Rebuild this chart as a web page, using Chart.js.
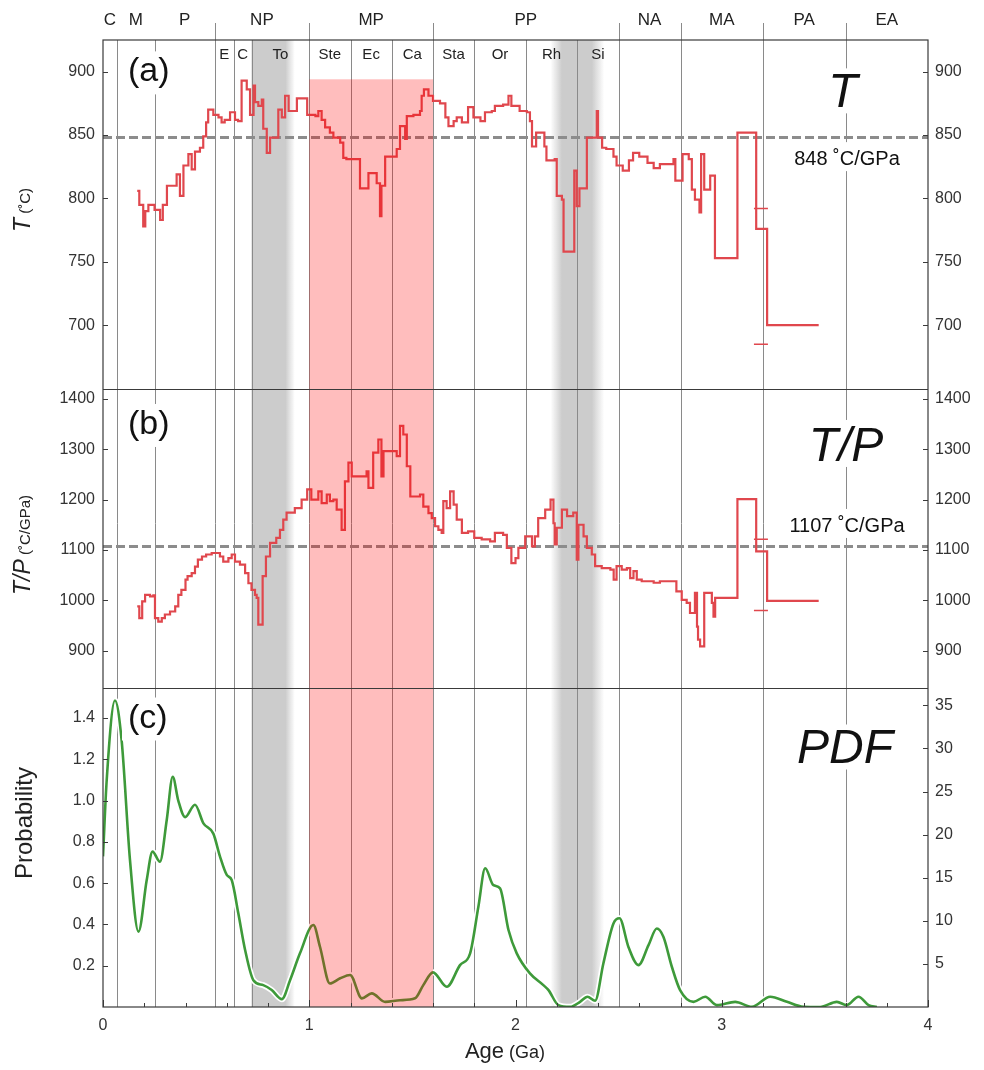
<!DOCTYPE html>
<html><head><meta charset="utf-8">
<script src="https://cdn.jsdelivr.net/npm/chart.js@4.4.1/dist/chart.umd.min.js"></script>
<style>html,body{margin:0;padding:0;background:#fff;}canvas{display:block}</style>
</head><body>
<canvas id="c" width="984" height="1070"></canvas>
<script>
// ---------------- data ----------------
const ageT = [0.166,0.176,0.195,0.205,0.22,0.25,0.277,0.29,0.31,0.357,0.373,0.39,0.414,0.43,0.446,0.47,0.486,0.5,0.51,0.535,0.56,0.575,0.59,0.616,0.64,0.655,0.672,0.697,0.713,0.73,0.737,0.753,0.77,0.777,0.794,0.81,0.85,0.867,0.883,0.9,0.94,0.99,1.03,1.044,1.06,1.077,1.1,1.117,1.15,1.165,1.18,1.246,1.287,1.327,1.343,1.35,1.368,1.424,1.44,1.465,1.473,1.505,1.537,1.545,1.556,1.578,1.6,1.634,1.66,1.675,1.7,1.715,1.74,1.77,1.796,1.83,1.852,1.885,1.9,1.94,1.966,1.98,2.02,2.055,2.07,2.08,2.1,2.14,2.15,2.19,2.2,2.225,2.233,2.285,2.297,2.31,2.346,2.394,2.4,2.42,2.44,2.475,2.49,2.52,2.55,2.57,2.6,2.64,2.67,2.7,2.766,2.775,2.81,2.84,2.855,2.87,2.892,2.9,2.915,2.944,2.967,3.076,3.167,3.22,3.47];
const tempT = [806,795,778,790,795,791,783,795,810,819,802,826,835,823,837,840,849,860,870,866,864,860,862,868,862,861,893,886,866,889,876,873,878,855,836,848,870,864,881,869,879,866,865,869,862,856,852,848,844,832,831,808,820,812,786,810,833,839,857,847,865,866,869,881,886,881,877,875,864,857,861,864,860,872,864,861,868,869,873,874,881,873,869,868,861,841,852,841,830,831,802,799,758,822,794,808,848,869,848,840,839,833,826,822,830,836,833,828,824,827,831,814,835,831,807,799,789,835,807,818,753,852,776,700,700];

const ageTP = [0.166,0.176,0.19,0.204,0.228,0.244,0.252,0.268,0.285,0.3,0.325,0.35,0.365,0.38,0.4,0.41,0.43,0.446,0.46,0.48,0.5,0.527,0.567,0.583,0.608,0.624,0.64,0.664,0.689,0.705,0.72,0.737,0.745,0.753,0.774,0.79,0.81,0.84,0.858,0.874,0.89,0.93,0.963,0.99,1.01,1.044,1.06,1.085,1.1,1.117,1.133,1.157,1.173,1.19,1.206,1.278,1.287,1.31,1.335,1.35,1.36,1.424,1.44,1.456,1.473,1.49,1.537,1.553,1.578,1.594,1.61,1.626,1.642,1.65,1.666,1.683,1.7,1.715,1.74,1.77,1.8,1.836,1.877,1.9,1.94,1.958,1.98,2.0,2.014,2.047,2.08,2.094,2.11,2.144,2.17,2.184,2.19,2.2,2.225,2.25,2.28,2.297,2.305,2.33,2.346,2.37,2.386,2.418,2.46,2.476,2.49,2.515,2.54,2.556,2.572,2.588,2.612,2.67,2.7,2.766,2.78,2.806,2.83,2.846,2.87,2.88,2.885,2.895,2.915,2.952,2.96,2.968,3.076,3.167,3.22,3.47];
const ratioTP = [988,965,998,1011,1008,1010,965,958,965,972,978,988,1011,1021,1041,1048,1054,1067,1081,1087,1091,1094,1087,1077,1084,1091,1077,1071,1054,1034,1021,1011,1005,952,1048,1087,1114,1124,1140,1160,1174,1183,1200,1220,1200,1216,1193,1210,1197,1200,1180,1140,1236,1273,1246,1256,1223,1293,1319,1246,1296,1286,1346,1329,1266,1206,1210,1186,1173,1163,1147,1140,1134,1197,1183,1216,1190,1160,1134,1137,1124,1121,1117,1134,1130,1104,1074,1084,1104,1127,1107,1127,1163,1180,1200,1153,1111,1144,1180,1167,1174,1081,1150,1127,1104,1091,1068,1064,1061,1041,1068,1061,1064,1044,1058,1041,1038,1035,1038,1038,1018,1001,995,975,1015,948,922,909,1015,995,968,1005,1201,1097,999,999];

const agePDF = [0,0.018,0.058,0.09,0.131,0.172,0.212,0.24,0.276,0.309,0.338,0.365,0.398,0.446,0.487,0.535,0.567,0.6,0.624,0.656,0.689,0.729,0.777,0.818,0.867,0.907,0.955,1.02,1.052,1.1,1.15,1.198,1.255,1.303,1.368,1.44,1.513,1.553,1.6,1.667,1.731,1.78,1.82,1.853,1.893,1.925,1.966,2.006,2.07,2.135,2.16,2.208,2.265,2.313,2.349,2.386,2.426,2.475,2.504,2.548,2.596,2.645,2.685,2.717,2.758,2.798,2.863,2.92,2.976,3.065,3.146,3.235,3.316,3.396,3.477,3.558,3.606,3.663,3.712,3.752];
const probPDF = [0.73,1.10,1.485,1.295,0.71,0.365,0.615,0.753,0.704,0.906,1.116,1.0,0.92,0.98,0.89,0.84,0.73,0.64,0.615,0.454,0.276,0.13,0.106,0.082,0.038,0.13,0.26,0.397,0.292,0.114,0.139,0.155,0.042,0.066,0.025,0.033,0.042,0.106,0.168,0.098,0.203,0.26,0.486,0.672,0.59,0.575,0.373,0.26,0.163,0.106,0.082,0.009,0.001,0.025,0.05,0.03,0.211,0.405,0.43,0.29,0.203,0.30,0.38,0.34,0.195,0.082,0.025,0.05,0.009,0.025,0.001,0.05,0.025,0.001,0.0,0.025,0.009,0.05,0.009,0.0];

const errAge = [3.19, 3.19];
const errT = [792, 685];
const errTP = [1121, 980];
const meanT = 848;
const meanTP = 1107;
const meanTLabel = '848 \u02DAC/GPa';
const meanTPLabel = '1107 \u02DAC/GPa';

const eraBounds = [0,0.066,0.252,0.541,1.0,1.6,2.5,2.8,3.2,3.6,4.0];
const eraLabels = ['C','M','P','NP','MP','PP','NA','MA','PA','EA'];
const periodBounds = [0.541,0.635,0.72,1.0,1.2,1.4,1.6,1.8,2.05,2.3,2.5];
const periodLabels = ['E','C','To','Ste','Ec','Ca','Sta','Or','Rh','Si'];
const boundaryAges = [0.066,0.252,0.541,0.635,0.72,1.0,1.2,1.4,1.6,1.8,2.05,2.3,2.5,2.8,3.2,3.6];
const eraTickAges = [0.541,1.0,1.6,2.5,2.8,3.2,3.6];
const pinkBand = [1.0, 1.6];
const pinkTopT = 894;
const greyBands = [[0.72,0.72,0.885,0.93],[2.17,2.225,2.37,2.43]];

const ticksAge = [0,1,2,3,4];
const ticksT = [700,750,800,850,900];
const ticksTP = [900,1000,1100,1200,1300,1400];
const ticksProb = [0.2,0.4,0.6,0.8,1.0,1.2,1.4];
const ticksPDF = [5,10,15,20,25,30,35];

// ---------------- chart ----------------
const FONT = '"Liberation Sans", Arial, sans-serif';
const RED = '#e0474d';
const GREEN = '#3e9a3a';
const pts = (xs, ys) => xs.map((x, i) => ({x: x, y: ys[i]}));
const setTicks = arr => s => { s.ticks = arr.map(v => ({value: v})); };

function yScale(pos, w, lo, hi, arr, fmt, weight, stackW) {
  return {
    type: 'linear', position: pos, stack: pos, stackWeight: stackW, weight: weight,
    min: lo, max: hi,
    afterBuildTicks: setTicks(arr),
    afterFit: s => { s.width = w; },
    grid: {display: false, drawTicks: false}, border: {display: false},
    ticks: {padding: pos === 'left' ? 8 : 7, color: '#333', font: {family: FONT, size: 16}, callback: fmt}
  };
}

const deco = {
  id: 'deco',
  beforeDatasetsDraw(chart) {
    const {ctx, chartArea: a, scales} = chart;
    const x = scales.x;
    ctx.save();
    // grey bands
    for (const [f0, s0, s1, f1] of greyBands) {
      const p0 = x.getPixelForValue(f0), p1 = x.getPixelForValue(s0), p2 = x.getPixelForValue(s1), p3 = x.getPixelForValue(f1);
      const g = ctx.createLinearGradient(p0, 0, p3, 0);
      const c = 'rgba(204,204,204,1)', w = 'rgba(204,204,204,0)';
      g.addColorStop(0, p1 > p0 ? w : c);
      g.addColorStop((p1 - p0) / (p3 - p0), c);
      g.addColorStop((p2 - p0) / (p3 - p0), c);
      g.addColorStop(1, w);
      ctx.fillStyle = g;
      ctx.fillRect(p0, a.top, p3 - p0, a.bottom - a.top);
    }
    // boundary lines
    ctx.strokeStyle = '#8a8a8a';
    ctx.lineWidth = 1;
    ctx.beginPath();
    for (const b of boundaryAges) {
      const px = Math.round(x.getPixelForValue(b)) + 0.5;
      ctx.moveTo(px, a.top); ctx.lineTo(px, a.bottom);
    }
    for (const b of eraTickAges) {
      const px = Math.round(x.getPixelForValue(b)) + 0.5;
      ctx.moveTo(px, a.top - 17); ctx.lineTo(px, a.top);
    }
    ctx.stroke();
    // mean dashed lines
    ctx.setLineDash([9, 4]);
    ctx.strokeStyle = '#8c8c8c';
    ctx.lineWidth = 3;
    for (const [sc, v] of [[scales.yA, meanT], [scales.yB, meanTP]]) {
      const py = sc.getPixelForValue(v);
      ctx.beginPath(); ctx.moveTo(a.left, py); ctx.lineTo(a.right, py); ctx.stroke();
    }
    ctx.restore();
  },
  afterDatasetsDraw(chart) {
    const {ctx, chartArea: a, scales} = chart;
    const x = scales.x;
    ctx.save();
    // pink overlay
    const q0 = x.getPixelForValue(pinkBand[0]), q1 = x.getPixelForValue(pinkBand[1]);
    const qt = scales.yA.getPixelForValue(pinkTopT);
    ctx.fillStyle = 'rgba(255,0,0,0.26)';
    ctx.fillRect(q0, qt, q1 - q0, a.bottom - qt);
    // frame and separators
    ctx.strokeStyle = '#3a3a3a';
    ctx.lineWidth = 1.2;
    ctx.strokeRect(a.left, a.top, a.right - a.left, a.bottom - a.top);
    ctx.beginPath();
    for (const sc of [scales.yA, scales.yB]) {
      const py = Math.round(sc.bottom) + 0.5;
      ctx.moveTo(a.left, py); ctx.lineTo(a.right, py);
    }
    ctx.stroke();
    // inward ticks on y axes
    ctx.lineWidth = 1;
    ctx.beginPath();
    for (const id of ['yA', 'yB', 'yC']) {
      for (const t of scales[id].ticks) {
        const py = Math.round(scales[id].getPixelForValue(t.value)) + 0.5;
        ctx.moveTo(a.left, py); ctx.lineTo(a.left + 5, py);
      }
    }
    for (const id of ['yA2', 'yB2', 'yC2']) {
      for (const t of scales[id].ticks) {
        const py = Math.round(scales[id].getPixelForValue(t.value)) + 0.5;
        ctx.moveTo(a.right, py); ctx.lineTo(a.right - 5, py);
      }
    }
    // x ticks (minor every 0.2)
    for (let i = 0; i <= 20; i++) {
      const px = Math.round(x.getPixelForValue(i * 0.2)) + 0.5;
      const len = (i % 5 === 0) ? 7 : 4;
      ctx.moveTo(px, a.bottom); ctx.lineTo(px, a.bottom - len);
    }
    ctx.stroke();

    // text helpers
    function boxText(s, cx, cy, font, align) {
      ctx.font = font;
      ctx.textAlign = align || 'center';
      ctx.textBaseline = 'middle';
      const m = ctx.measureText(s);
      const w = m.width;
      const left = align === 'left' ? cx : cx - w / 2;
      const asc = m.actualBoundingBoxAscent, des = m.actualBoundingBoxDescent;
      ctx.fillStyle = '#fff';
      ctx.fillRect(left - 6, cy - asc - 6, w + 12, asc + des + 12);
      ctx.fillStyle = '#111';
      ctx.fillText(s, cx, cy);
    }
    function plainText(s, cx, cy, font, color) {
      ctx.font = font;
      ctx.textAlign = 'center';
      ctx.textBaseline = 'middle';
      ctx.fillStyle = color || '#222';
      ctx.fillText(s, cx, cy);
    }
    // era labels
    for (let i = 0; i < eraLabels.length; i++) {
      const cx = x.getPixelForValue((eraBounds[i] + eraBounds[i + 1]) / 2);
      plainText(eraLabels[i], cx, a.top - 20, '17px ' + FONT);
    }
    for (let i = 0; i < periodLabels.length; i++) {
      const cx = x.getPixelForValue((periodBounds[i] + periodBounds[i + 1]) / 2);
      plainText(periodLabels[i], cx, a.top + 15, '15px ' + FONT);
    }
    // panel letters
    boxText('(a)', 128, scales.yA.top + 32, '34px ' + FONT, 'left');
    boxText('(b)', 128, scales.yB.top + 36, '34px ' + FONT, 'left');
    boxText('(c)', 128, scales.yC.top + 30, '34px ' + FONT, 'left');
    // big italic names
    boxText('T', 843, scales.yA.top + 54, 'italic 48px ' + FONT);
    boxText('T/P', 846, scales.yB.top + 59, 'italic 48px ' + FONT);
    boxText('PDF', 845, scales.yC.top + 62, 'italic 48px ' + FONT);
    // mean labels
    boxText(meanTLabel, 847, scales.yA.getPixelForValue(meanT) + 22, '20px ' + FONT);
    boxText(meanTPLabel, 847, scales.yB.getPixelForValue(meanTP) - 20, '20px ' + FONT);

    // axis titles (mixed fonts)
    function mixed(parts, cx, cy, rot) {
      ctx.save();
      ctx.translate(cx, cy);
      if (rot) ctx.rotate(-Math.PI / 2);
      let total = 0;
      for (const [s, f] of parts) { ctx.font = f; total += ctx.measureText(s).width; }
      let px = -total / 2;
      ctx.textBaseline = 'alphabetic';
      ctx.textAlign = 'left';
      ctx.fillStyle = '#222';
      for (const [s, f] of parts) { ctx.font = f; ctx.fillText(s, px, 0); px += ctx.measureText(s).width; }
      ctx.restore();
    }
    mixed([['T', 'italic 23px ' + FONT], [' (\u02DAC)', '15px ' + FONT]], 30, 210, true);
    mixed([['T/P', 'italic 23px ' + FONT], [' (\u02DAC/GPa)', '15px ' + FONT]], 30, 545, true);
    mixed([['Probability', '24px ' + FONT]], 32, 823, true);
    mixed([['Age', '22px ' + FONT], [' (Ga)', '18px ' + FONT]], 505, 1058, false);
    ctx.restore();
  }
};

new Chart(document.getElementById('c'), {
  type: 'line',
  data: {
    datasets: [
      {data: pts(errAge, errT), yAxisID: 'yA', showLine: false, pointStyle: 'line', pointRadius: 7, pointBorderWidth: 1.5, pointBorderColor: RED, borderColor: RED, order: 0},
      {data: pts(errAge, errTP), yAxisID: 'yB', showLine: false, pointStyle: 'line', pointRadius: 7, pointBorderWidth: 1.5, pointBorderColor: RED, borderColor: RED, order: 0},
      {data: pts(ageT, tempT), yAxisID: 'yA', stepped: 'before', borderColor: RED, borderWidth: 2.2, pointRadius: 0, fill: false, order: 1},
      {data: pts(ageTP, ratioTP), yAxisID: 'yB', stepped: 'before', borderColor: RED, borderWidth: 2.2, pointRadius: 0, fill: false, order: 1},
      {data: pts(agePDF, probPDF), yAxisID: 'yC', borderColor: GREEN, borderWidth: 2.6, pointRadius: 0, fill: false, cubicInterpolationMode: 'monotone', order: 2},
      {data: pts(agePDF, probPDF), yAxisID: 'yC', borderColor: '#ffffff', borderWidth: 6, pointRadius: 0, fill: false, cubicInterpolationMode: 'monotone', order: 3}
    ]
  },
  options: {
    responsive: false, animation: false, devicePixelRatio: 1, events: [],
    layout: {padding: {top: 40, left: 0, right: 0, bottom: 0}, autoPadding: false},
    plugins: {legend: {display: false}, tooltip: {enabled: false}},
    scales: {
      x: {
        type: 'linear', position: 'bottom', min: 0, max: 4,
        afterBuildTicks: setTicks(ticksAge),
        afterFit: s => { s.height = 63; },
        grid: {display: false, drawTicks: false}, border: {display: false},
        ticks: {padding: 9, color: '#333', font: {family: FONT, size: 16}, maxRotation: 0, callback: v => String(v)}
      },
      yA: yScale('left', 103, 650, 925, ticksT, v => String(v), 3, 348.3),
      yB: yScale('left', 103, 826, 1420, ticksTP, v => String(v), 2, 299.3),
      yC: yScale('left', 103, 0, 1.545, ticksProb, v => v.toFixed(1), 1, 318.6),
      yA2: yScale('right', 56, 650, 925, ticksT, v => String(v), 1, 348.3),
      yB2: yScale('right', 56, 826, 1420, ticksTP, v => String(v), 2, 299.3),
      yC2: yScale('right', 56, 0, 37, ticksPDF, v => String(v), 3, 318.6)
    }
  },
  plugins: [deco]
});
</script>
</body></html>
